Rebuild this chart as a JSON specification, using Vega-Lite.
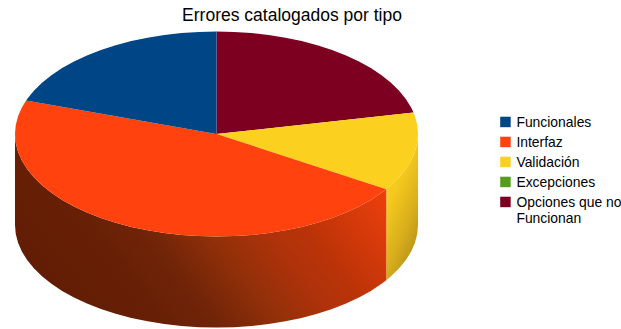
{
  "$schema": "https://vega.github.io/schema/vega-lite/v6.json",
  "width": 621,
  "height": 329,
  "autosize": "none",
  "padding": 0,
  "background": "white",
  "title": {
    "text": "Errores catalogados por tipo",
    "font": "Liberation Sans",
    "fontSize": 17.5,
    "fontWeight": "normal",
    "color": "#000000",
    "anchor": "middle",
    "dx": -18.5,
    "offset": -24
  },
  "config": {"view": {"stroke": null}},
  "datasets": {
    "faces": [
      {"slice": "Opciones que no Funcionan", "n": 0, "u": 0, "v": 0},
      {"slice": "Opciones que no Funcionan", "n": 1, "u": 0, "v": 1},
      {"slice": "Opciones que no Funcionan", "n": 2, "u": 0.0872, "v": 0.9962},
      {"slice": "Opciones que no Funcionan", "n": 3, "u": 0.1736, "v": 0.9848},
      {"slice": "Opciones que no Funcionan", "n": 4, "u": 0.2588, "v": 0.9659},
      {"slice": "Opciones que no Funcionan", "n": 5, "u": 0.342, "v": 0.9397},
      {"slice": "Opciones que no Funcionan", "n": 6, "u": 0.4226, "v": 0.9063},
      {"slice": "Opciones que no Funcionan", "n": 7, "u": 0.5, "v": 0.866},
      {"slice": "Opciones que no Funcionan", "n": 8, "u": 0.5736, "v": 0.8192},
      {"slice": "Opciones que no Funcionan", "n": 9, "u": 0.6428, "v": 0.766},
      {"slice": "Opciones que no Funcionan", "n": 10, "u": 0.7071, "v": 0.7071},
      {"slice": "Opciones que no Funcionan", "n": 11, "u": 0.766, "v": 0.6428},
      {"slice": "Opciones que no Funcionan", "n": 12, "u": 0.8192, "v": 0.5736},
      {"slice": "Opciones que no Funcionan", "n": 13, "u": 0.866, "v": 0.5},
      {"slice": "Opciones que no Funcionan", "n": 14, "u": 0.9063, "v": 0.4226},
      {"slice": "Opciones que no Funcionan", "n": 15, "u": 0.9397, "v": 0.342},
      {"slice": "Opciones que no Funcionan", "n": 16, "u": 0.9659, "v": 0.2588},
      {"slice": "Opciones que no Funcionan", "n": 17, "u": 0.9778, "v": 0.2096},
      {"slice": "Validación", "n": 0, "u": 0, "v": 0},
      {"slice": "Validación", "n": 1, "u": 0.9778, "v": 0.2096},
      {"slice": "Validación", "n": 2, "u": 0.9848, "v": 0.1736},
      {"slice": "Validación", "n": 3, "u": 0.9962, "v": 0.0872},
      {"slice": "Validación", "n": 4, "u": 1, "v": 0},
      {"slice": "Validación", "n": 5, "u": 0.9962, "v": -0.0872},
      {"slice": "Validación", "n": 6, "u": 0.9848, "v": -0.1736},
      {"slice": "Validación", "n": 7, "u": 0.9659, "v": -0.2588},
      {"slice": "Validación", "n": 8, "u": 0.9397, "v": -0.342},
      {"slice": "Validación", "n": 9, "u": 0.9063, "v": -0.4226},
      {"slice": "Validación", "n": 10, "u": 0.866, "v": -0.5},
      {"slice": "Validación", "n": 11, "u": 0.8425, "v": -0.5388},
      {"slice": "Interfaz", "n": 0, "u": 0, "v": 0},
      {"slice": "Interfaz", "n": 1, "u": 0.8425, "v": -0.5388},
      {"slice": "Interfaz", "n": 2, "u": 0.8192, "v": -0.5736},
      {"slice": "Interfaz", "n": 3, "u": 0.766, "v": -0.6428},
      {"slice": "Interfaz", "n": 4, "u": 0.7071, "v": -0.7071},
      {"slice": "Interfaz", "n": 5, "u": 0.6428, "v": -0.766},
      {"slice": "Interfaz", "n": 6, "u": 0.5736, "v": -0.8192},
      {"slice": "Interfaz", "n": 7, "u": 0.5, "v": -0.866},
      {"slice": "Interfaz", "n": 8, "u": 0.4226, "v": -0.9063},
      {"slice": "Interfaz", "n": 9, "u": 0.342, "v": -0.9397},
      {"slice": "Interfaz", "n": 10, "u": 0.2588, "v": -0.9659},
      {"slice": "Interfaz", "n": 11, "u": 0.1736, "v": -0.9848},
      {"slice": "Interfaz", "n": 12, "u": 0.0872, "v": -0.9962},
      {"slice": "Interfaz", "n": 13, "u": 0, "v": -1},
      {"slice": "Interfaz", "n": 14, "u": -0.0872, "v": -0.9962},
      {"slice": "Interfaz", "n": 15, "u": -0.1736, "v": -0.9848},
      {"slice": "Interfaz", "n": 16, "u": -0.2588, "v": -0.9659},
      {"slice": "Interfaz", "n": 17, "u": -0.342, "v": -0.9397},
      {"slice": "Interfaz", "n": 18, "u": -0.4226, "v": -0.9063},
      {"slice": "Interfaz", "n": 19, "u": -0.5, "v": -0.866},
      {"slice": "Interfaz", "n": 20, "u": -0.5736, "v": -0.8192},
      {"slice": "Interfaz", "n": 21, "u": -0.6428, "v": -0.766},
      {"slice": "Interfaz", "n": 22, "u": -0.7071, "v": -0.7071},
      {"slice": "Interfaz", "n": 23, "u": -0.766, "v": -0.6428},
      {"slice": "Interfaz", "n": 24, "u": -0.8192, "v": -0.5736},
      {"slice": "Interfaz", "n": 25, "u": -0.866, "v": -0.5},
      {"slice": "Interfaz", "n": 26, "u": -0.9063, "v": -0.4226},
      {"slice": "Interfaz", "n": 27, "u": -0.9397, "v": -0.342},
      {"slice": "Interfaz", "n": 28, "u": -0.9659, "v": -0.2588},
      {"slice": "Interfaz", "n": 29, "u": -0.9848, "v": -0.1736},
      {"slice": "Interfaz", "n": 30, "u": -0.9962, "v": -0.0872},
      {"slice": "Interfaz", "n": 31, "u": -1, "v": 0},
      {"slice": "Interfaz", "n": 32, "u": -0.9962, "v": 0.0872},
      {"slice": "Interfaz", "n": 33, "u": -0.9848, "v": 0.1736},
      {"slice": "Interfaz", "n": 34, "u": -0.9659, "v": 0.2588},
      {"slice": "Interfaz", "n": 35, "u": -0.9449, "v": 0.3272},
      {"slice": "Funcionales", "n": 0, "u": 0, "v": 0},
      {"slice": "Funcionales", "n": 1, "u": -0.9449, "v": 0.3272},
      {"slice": "Funcionales", "n": 2, "u": -0.9397, "v": 0.342},
      {"slice": "Funcionales", "n": 3, "u": -0.9063, "v": 0.4226},
      {"slice": "Funcionales", "n": 4, "u": -0.866, "v": 0.5},
      {"slice": "Funcionales", "n": 5, "u": -0.8192, "v": 0.5736},
      {"slice": "Funcionales", "n": 6, "u": -0.766, "v": 0.6428},
      {"slice": "Funcionales", "n": 7, "u": -0.7071, "v": 0.7071},
      {"slice": "Funcionales", "n": 8, "u": -0.6428, "v": 0.766},
      {"slice": "Funcionales", "n": 9, "u": -0.5736, "v": 0.8192},
      {"slice": "Funcionales", "n": 10, "u": -0.5, "v": 0.866},
      {"slice": "Funcionales", "n": 11, "u": -0.4226, "v": 0.9063},
      {"slice": "Funcionales", "n": 12, "u": -0.342, "v": 0.9397},
      {"slice": "Funcionales", "n": 13, "u": -0.2588, "v": 0.9659},
      {"slice": "Funcionales", "n": 14, "u": -0.1736, "v": 0.9848},
      {"slice": "Funcionales", "n": 15, "u": -0.0872, "v": 0.9962},
      {"slice": "Funcionales", "n": 16, "u": 0, "v": 1}
    ],
    "wallValidacion": [
      {"u": 1, "v": 0, "base": -0.888},
      {"u": 0.9962, "v": -0.0872, "base": -0.9752},
      {"u": 0.9848, "v": -0.1736, "base": -1.0616},
      {"u": 0.9659, "v": -0.2588, "base": -1.1468},
      {"u": 0.9397, "v": -0.342, "base": -1.23},
      {"u": 0.9063, "v": -0.4226, "base": -1.3106},
      {"u": 0.866, "v": -0.5, "base": -1.388},
      {"u": 0.8425, "v": -0.5388, "base": -1.4268}
    ],
    "wallInterfaz": [
      {"u": 0.8425, "v": -0.5388, "base": -1.4268},
      {"u": 0.8192, "v": -0.5736, "base": -1.4616},
      {"u": 0.766, "v": -0.6428, "base": -1.5308},
      {"u": 0.7071, "v": -0.7071, "base": -1.5951},
      {"u": 0.6428, "v": -0.766, "base": -1.654},
      {"u": 0.5736, "v": -0.8192, "base": -1.7072},
      {"u": 0.5, "v": -0.866, "base": -1.754},
      {"u": 0.4226, "v": -0.9063, "base": -1.7943},
      {"u": 0.342, "v": -0.9397, "base": -1.8277},
      {"u": 0.2588, "v": -0.9659, "base": -1.8539},
      {"u": 0.1736, "v": -0.9848, "base": -1.8728},
      {"u": 0.0872, "v": -0.9962, "base": -1.8842},
      {"u": 0, "v": -1, "base": -1.888},
      {"u": -0.0872, "v": -0.9962, "base": -1.8842},
      {"u": -0.1736, "v": -0.9848, "base": -1.8728},
      {"u": -0.2588, "v": -0.9659, "base": -1.8539},
      {"u": -0.342, "v": -0.9397, "base": -1.8277},
      {"u": -0.4226, "v": -0.9063, "base": -1.7943},
      {"u": -0.5, "v": -0.866, "base": -1.754},
      {"u": -0.5736, "v": -0.8192, "base": -1.7072},
      {"u": -0.6428, "v": -0.766, "base": -1.654},
      {"u": -0.7071, "v": -0.7071, "base": -1.5951},
      {"u": -0.766, "v": -0.6428, "base": -1.5308},
      {"u": -0.8192, "v": -0.5736, "base": -1.4616},
      {"u": -0.866, "v": -0.5, "base": -1.388},
      {"u": -0.9063, "v": -0.4226, "base": -1.3106},
      {"u": -0.9397, "v": -0.342, "base": -1.23},
      {"u": -0.9659, "v": -0.2588, "base": -1.1468},
      {"u": -0.9848, "v": -0.1736, "base": -1.0616},
      {"u": -0.9962, "v": -0.0872, "base": -0.9752},
      {"u": -1, "v": 0, "base": -0.888}
    ]
  },
  "encoding": {
    "x": {"field": "u", "type": "quantitative", "axis": null, "scale": {"domain": [-1.0744, 2.0074], "nice": false, "zero": false}},
    "y": {"field": "v", "type": "quantitative", "axis": null, "scale": {"domain": [-1.9024, 1.3073], "nice": false, "zero": false}}
  },
  "layer": [
    {
      "data": {"name": "wallValidacion"},
      "mark": {
        "type": "area",
        "fill": {
          "gradient": "linear", "x1": 0.2, "y1": 0, "x2": 0.7, "y2": 1,
          "stops": [
            {"offset": 0, "color": "#fbd01f"},
            {"offset": 0.35, "color": "#f4c81d"},
            {"offset": 0.7, "color": "#d6ac1c"},
            {"offset": 1, "color": "#b08c16"}
          ]
        }
      },
      "encoding": {"y2": {"field": "base"}}
    },
    {
      "data": {"name": "wallInterfaz"},
      "mark": {
        "type": "area",
        "fill": {
          "gradient": "linear", "x1": 0, "y1": 0.7, "x2": 1, "y2": 0.3,
          "stops": [
            {"offset": 0, "color": "#601c04"},
            {"offset": 0.24, "color": "#672005"},
            {"offset": 0.37, "color": "#702408"},
            {"offset": 0.52, "color": "#923009"},
            {"offset": 0.66, "color": "#b0320a"},
            {"offset": 0.75, "color": "#bb3308"},
            {"offset": 0.97, "color": "#e83e0c"},
            {"offset": 1, "color": "#ec3f0c"}
          ]
        }
      },
      "encoding": {"y2": {"field": "base"}}
    },
    {
      "data": {"name": "faces"},
      "mark": {"type": "line", "filled": true, "strokeWidth": 0},
      "encoding": {
        "order": {"field": "n", "type": "quantitative"},
        "detail": {"field": "slice"},
        "color": {
          "field": "slice",
          "type": "nominal",
          "scale": {
            "domain": ["Funcionales", "Interfaz", "Validación", "Excepciones", "Opciones que no Funcionan"],
            "range": ["#004586", "#ff420e", "#fbd01f", "#579d1c", "#7e0021"]
          },
          "legend": {
            "orient": "none",
            "legendX": 498.5,
            "legendY": 115,
            "title": null,
            "symbolType": "square",
            "symbolSize": 110,
            "symbolStrokeWidth": 0,
            "symbolOpacity": 1,
            "labelFont": "Liberation Sans",
            "labelFontSize": 13.9,
            "labelColor": "#000000",
            "labelOffset": 4,
            "labelLimit": 200,
            "rowPadding": 4,
            "labelExpr": "datum.label === 'Opciones que no Funcionan' ? ['Opciones que no', 'Funcionan'] : datum.label",
            "encode": {"labels": {"update": {"dy": {"value": 1.5}}}}
          }
        }
      }
    }
  ]
}
